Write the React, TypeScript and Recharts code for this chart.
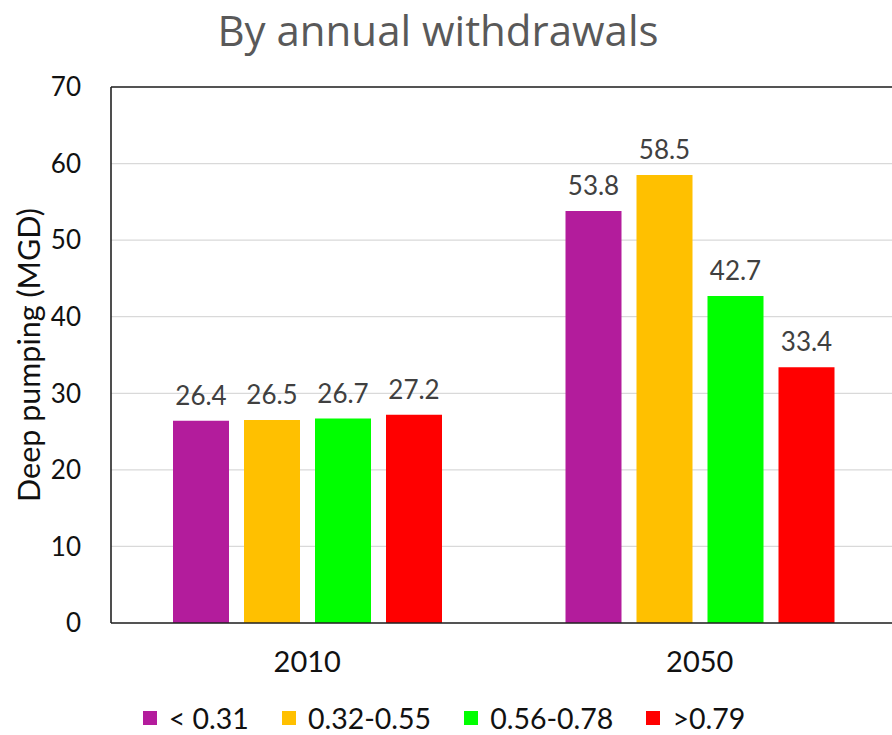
import React from 'react';
import { BarChart, Bar, XAxis, YAxis, CartesianGrid, Legend, LabelList, ReferenceLine } from 'recharts';

const YEARS = ['2010', '2050'];
const SERIES = ['< 0.31', '0.32-0.55', '0.56-0.78', '>0.79'];
const LOW = [26.4, 53.8];
const MID_LOW = [26.5, 58.5];
const MID_HIGH = [26.7, 42.7];
const HIGH = [27.2, 33.4];
const Y_TICKS = [0, 10, 20, 30, 40, 50, 60, 70];

const COLORS = ['#B31C9C', '#FFC000', '#00FF00', '#FF0000'];
const FONT = 'Lato, "Open Sans", sans-serif';

const data = YEARS.map((year, i) => ({
  year,
  s0: LOW[i],
  s1: MID_LOW[i],
  s2: MID_HIGH[i],
  s3: HIGH[i],
}));

function LegendRow() {
  return (
    <div style={{ display: 'flex', justifyContent: 'center', alignItems: 'center', height: 34, fontFamily: FONT, fontSize: 28.5, color: '#111', paddingRight: 8 }}>
      {SERIES.map((name, i) => (
        <div key={name} style={{ display: 'flex', alignItems: 'center', marginRight: i < SERIES.length - 1 ? 33 : 0 }}>
          <span style={{ display: 'inline-block', width: 14, height: 14, background: COLORS[i], marginRight: 12 }} />
          <span>{name}</span>
        </div>
      ))}
    </div>
  );
}

function YLabel(props: any) {
  const vb = props.viewBox || { x: 0, y: 87, width: 111, height: 536 };
  const cx = vb.x + 28;
  const cy = vb.y + vb.height / 2;
  return (
    <text x={cx} y={cy} transform={`rotate(-90, ${cx}, ${cy})`} textAnchor="middle" dominantBaseline="central"
      style={{ fontFamily: FONT, fontSize: 30.5, fill: '#111' }}>
      Deep pumping (MGD)
    </text>
  );
}

export default function App() {
  return (
    <div style={{ position: 'absolute', left: 0, top: 0, width: 892, height: 735, overflow: 'hidden', background: '#fff', fontFamily: FONT }}>
      <div style={{ position: 'absolute', left: 0, top: 4, width: 876, textAlign: 'center', fontFamily: '"Open Sans", sans-serif', fontSize: 42, color: '#595959', lineHeight: '52px' }}>
        By annual withdrawals
      </div>
      <BarChart width={900} height={735} data={data} margin={{ top: 87, right: 4, bottom: 0, left: 0 }} barSize={56} barGap={15}>
        <CartesianGrid vertical={false} stroke="#D9D9D9" strokeWidth={1.2} />
        <XAxis dataKey="year" height={78} tickLine={false} tickMargin={22} axisLine={{ stroke: '#222', strokeWidth: 1.6 }}
          tick={{ fontFamily: FONT, fontSize: 29, fill: '#111' }} />
        <YAxis width={111} domain={[0, 70]} ticks={Y_TICKS} tickLine={false} tickMargin={24} interval={0}
          axisLine={{ stroke: '#222', strokeWidth: 1.6 }} tick={{ fontFamily: FONT, fontSize: 26, fill: '#111' }}
          label={{ content: (p: any) => <YLabel {...p} /> }} />
        <ReferenceLine y={70} stroke="#222" strokeWidth={1.6} />
        <Legend verticalAlign="bottom" height={34} content={() => <LegendRow />} />
        {SERIES.map((name, i) => (
          <Bar key={name} dataKey={`s${i}`} name={name} fill={COLORS[i]} isAnimationActive={false}>
            <LabelList dataKey={`s${i}`} position="top" offset={16}
              style={{ fontFamily: FONT, fontSize: 26, fill: '#404040' }} />
          </Bar>
        ))}
      </BarChart>
    </div>
  );
}
